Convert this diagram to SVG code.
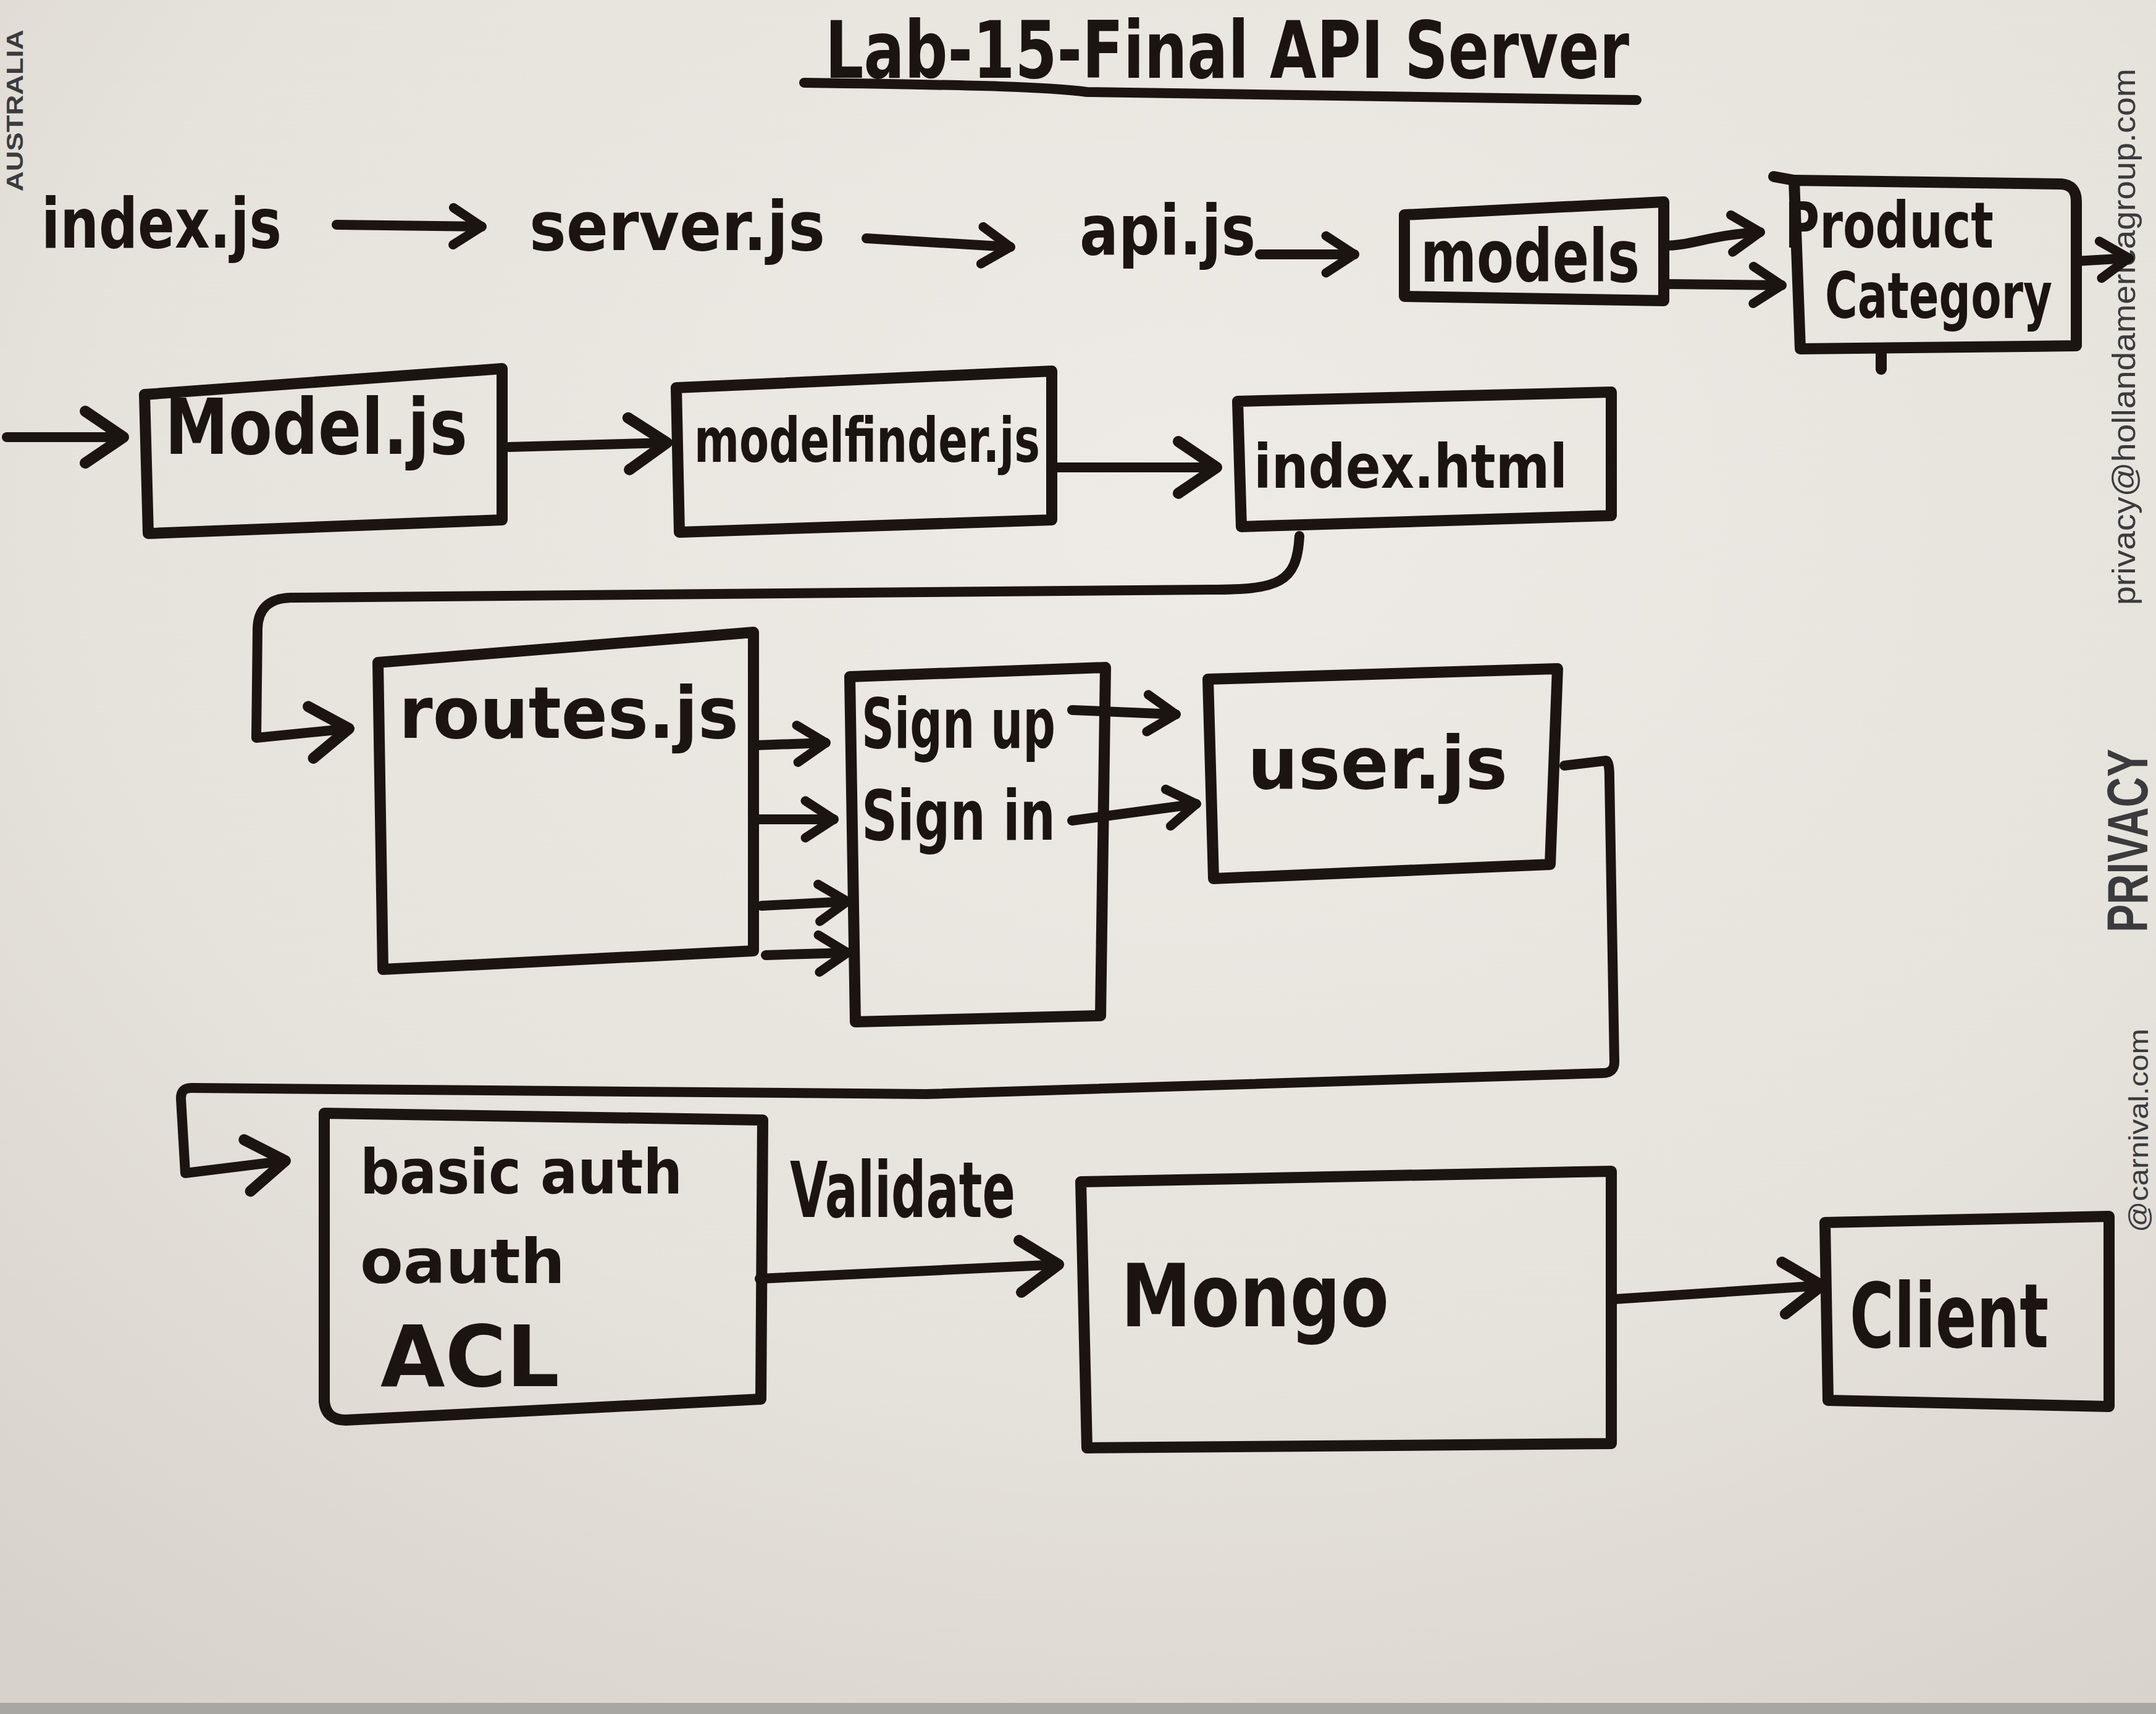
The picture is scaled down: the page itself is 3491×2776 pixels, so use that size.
<svg xmlns="http://www.w3.org/2000/svg" width="3491" height="2776" viewBox="0 0 3491 2776">
<defs>
<radialGradient id="bg" cx="0.55" cy="0.3" r="0.85">
<stop offset="0" stop-color="#eeebe6"/>
<stop offset="0.6" stop-color="#e6e2dc"/>
<stop offset="1" stop-color="#d7d2ca"/>
</radialGradient>
<marker id="ah" markerUnits="userSpaceOnUse" viewBox="-80 -60 100 120" markerWidth="100" markerHeight="120" refX="0" refY="0" orient="auto" overflow="visible">
<path d="M-62,-42 L0,0 L-62,42" fill="none" stroke="#1b1411" stroke-width="18" stroke-linecap="round" stroke-linejoin="round"/>
</marker>
<marker id="ahs" markerUnits="userSpaceOnUse" viewBox="-60 -40 80 80" markerWidth="80" markerHeight="80" refX="0" refY="0" orient="auto" overflow="visible">
<path d="M-46,-30 L0,0 L-46,30" fill="none" stroke="#1b1411" stroke-width="15" stroke-linecap="round" stroke-linejoin="round"/>
</marker>
</defs>
<style>
.box{fill:none;stroke:#1b1411;stroke-width:18;stroke-linejoin:round;stroke-linecap:round}
.ln{fill:none;stroke:#1b1411;stroke-width:16;stroke-linejoin:round;stroke-linecap:round}
.hw{font-family:"DejaVu Sans","Liberation Sans",sans-serif;font-weight:bold;fill:#1b1411}
.pr{font-family:"Liberation Sans",Arial,sans-serif;fill:#3b3b3e}
</style>
<rect x="0" y="0" width="3491" height="2776" fill="url(#bg)"/>
<rect x="0" y="2758" width="3491" height="18" fill="#a8a7a3"/>

<!-- printed texts on the board -->
<g id="printed">
<text class="pr" transform="translate(37,310) rotate(-90)" font-size="36" font-weight="bold" fill="#2c2c3c" textLength="262" lengthAdjust="spacingAndGlyphs">AUSTRALIA</text>
<text class="pr" transform="translate(3457,980) rotate(-90)" font-size="52" textLength="869" lengthAdjust="spacingAndGlyphs">privacy@hollandamericagroup.com</text>
<text class="pr" transform="translate(3477,1510) rotate(-90)" font-size="92" font-weight="bold" fill="#1e4d69" textLength="297" lengthAdjust="spacingAndGlyphs">PRIVACY</text>
<text class="pr" transform="translate(3478,1996) rotate(-90)" font-size="44" fill="#55555a" textLength="330" lengthAdjust="spacingAndGlyphs">@carnival.com</text>
</g>

<!-- title -->
<g id="title">
<text class="hw" x="1336" y="126" font-size="128" textLength="1302" lengthAdjust="spacingAndGlyphs">Lab-15-Final  API Server</text>
<path class="ln" d="M1302,134 C1600,138 1700,141 1760,149 L2650,162" stroke-width="22"/>
</g>

<!-- nodes -->
<g id="index-js"><text class="hw" x="67" y="401" font-size="112" textLength="389" lengthAdjust="spacingAndGlyphs">index.js</text></g>
<g id="server-js"><text class="hw" x="857" y="405" font-size="110" textLength="479" lengthAdjust="spacingAndGlyphs">server.js</text></g>
<g id="api-js"><text class="hw" x="1748" y="412" font-size="112" textLength="285" lengthAdjust="spacingAndGlyphs">api.js</text></g>

<g id="models">
<path class="box" d="M2274,348 L2694,327 L2694,487 L2274,480 Z"/>
<text class="hw" x="2300" y="456" font-size="118" textLength="355" lengthAdjust="spacingAndGlyphs">models</text>
</g>

<g id="product-category">
<path class="box" d="M2905,292 L3338,298 Q3362,300 3362,326 L3362,560 L2915,565 Z"/>
<path class="box" d="M2872,286 L2905,292"/>
<path class="box" d="M3046,568 L3046,598" stroke-width="14"/>
<text class="hw" x="2890" y="401" font-size="104" textLength="338" lengthAdjust="spacingAndGlyphs">Product</text>
<text class="hw" x="2955" y="515" font-size="104" textLength="368" lengthAdjust="spacingAndGlyphs">Category</text>
</g>

<g id="model-js">
<path class="box" d="M234,639 L813,597 L813,842 L240,864 Z"/>
<text class="hw" x="267" y="735" font-size="125" textLength="490" lengthAdjust="spacingAndGlyphs">Model.js</text>
</g>

<g id="modelfinder-js">
<path class="box" d="M1095,628 L1703,601 L1703,842 L1100,862 Z"/>
<text class="hw" x="1124" y="748" font-size="100" textLength="560" lengthAdjust="spacingAndGlyphs">modelfinder.js</text>
</g>

<g id="index-html">
<path class="box" d="M2004,650 L2609,635 L2609,835 L2010,853 Z"/>
<text class="hw" x="2030" y="790" font-size="98" textLength="508" lengthAdjust="spacingAndGlyphs">index.html</text>
</g>

<g id="routes-js">
<path class="box" d="M612,1073 L1220,1024 L1220,1540 L620,1570 Z"/>
<text class="hw" x="646" y="1195" font-size="115" textLength="550" lengthAdjust="spacingAndGlyphs">routes.js</text>
</g>

<g id="sign">
<path class="box" d="M1376,1096 L1790,1081 L1782,1645 L1385,1655 Z"/>
<text class="hw" x="1395" y="1211" font-size="112" textLength="314" lengthAdjust="spacingAndGlyphs">Sign up</text>
<text class="hw" x="1395" y="1360" font-size="112" textLength="314" lengthAdjust="spacingAndGlyphs">Sign in</text>
</g>

<g id="user-js">
<path class="box" d="M1956,1100 L2522,1083 L2510,1400 L1965,1423 Z"/>
<text class="hw" x="2020" y="1277" font-size="118" textLength="421" lengthAdjust="spacingAndGlyphs">user.js</text>
</g>

<g id="auth">
<path class="box" d="M525,1803 L1235,1814 L1232,2266 L560,2300 Q528,2300 525,2270 Z"/>
<text class="hw" x="583" y="1933" font-size="100" textLength="522" lengthAdjust="spacingAndGlyphs">basic auth</text>
<text class="hw" x="583" y="2078" font-size="100" textLength="332" lengthAdjust="spacingAndGlyphs">oauth</text>
<text class="hw" x="616" y="2245" font-size="138" textLength="290" lengthAdjust="spacingAndGlyphs">ACL</text>
</g>

<g id="mongo">
<path class="box" d="M1750,1914 L2609,1897 L2609,2338 L1760,2345 Z"/>
<text class="hw" x="1815" y="2148" font-size="140" textLength="434" lengthAdjust="spacingAndGlyphs">Mongo</text>
</g>

<g id="client">
<path class="box" d="M2955,1980 L3415,1970 L3415,2278 L2960,2268 Z"/>
<text class="hw" x="2995" y="2182" font-size="145" textLength="322" lengthAdjust="spacingAndGlyphs">Client</text>
</g>

<!-- connectors -->
<g id="connectors">
<path class="ln" d="M545,364 L780,367" marker-end="url(#ahs)"/>
<path class="ln" d="M1403,386 L1636,400" marker-end="url(#ahs)"/>
<path class="ln" d="M2040,412 L2193,412" marker-end="url(#ahs)"/>
<path class="ln" d="M2694,398 C2740,398 2770,380 2850,376" marker-end="url(#ahs)"/>
<path class="ln" d="M2694,460 L2885,462" marker-end="url(#ahs)"/>
<path class="ln" d="M3362,423 L3447,418" marker-end="url(#ahs)"/>
<path class="ln" d="M11,708 L200,708" marker-end="url(#ah)"/>
<path class="ln" d="M824,724 L1080,717" marker-end="url(#ah)"/>
<path class="ln" d="M1710,757 L1970,757" marker-end="url(#ah)"/>
<path class="ln" d="M2104,868 C2100,945 2070,955 1960,955 L470,968 Q417,970 417,1020 L415,1195 L565,1180" marker-end="url(#ah)"/>
<path class="ln" d="M1225,1207 L1337,1203" marker-end="url(#ahs)"/>
<path class="ln" d="M1222,1327 L1350,1327" marker-end="url(#ahs)"/>
<path class="ln" d="M1233,1467 L1372,1460" marker-end="url(#ahs)"/>
<path class="ln" d="M1240,1547 L1372,1543" marker-end="url(#ahs)"/>
<path class="ln" d="M1736,1150 L1904,1157" marker-end="url(#ahs)"/>
<path class="ln" d="M1736,1329 L1937,1302" marker-end="url(#ahs)"/>
<path class="ln" d="M2533,1240 L2600,1232 Q2606,1232 2606,1260 L2614,1720 Q2614,1738 2595,1738 L1500,1772 L310,1762 Q292,1762 293,1780 L300,1900 L462,1880" marker-end="url(#ah)"/>
<path class="ln" d="M1230,2071 L1714,2048" marker-end="url(#ah)"/>
<text class="hw" x="1279" y="1971" font-size="125" textLength="365" lengthAdjust="spacingAndGlyphs">Validate</text>
<path class="ln" d="M2616,2104 L2950,2082" marker-end="url(#ah)"/>
</g>
</svg>
